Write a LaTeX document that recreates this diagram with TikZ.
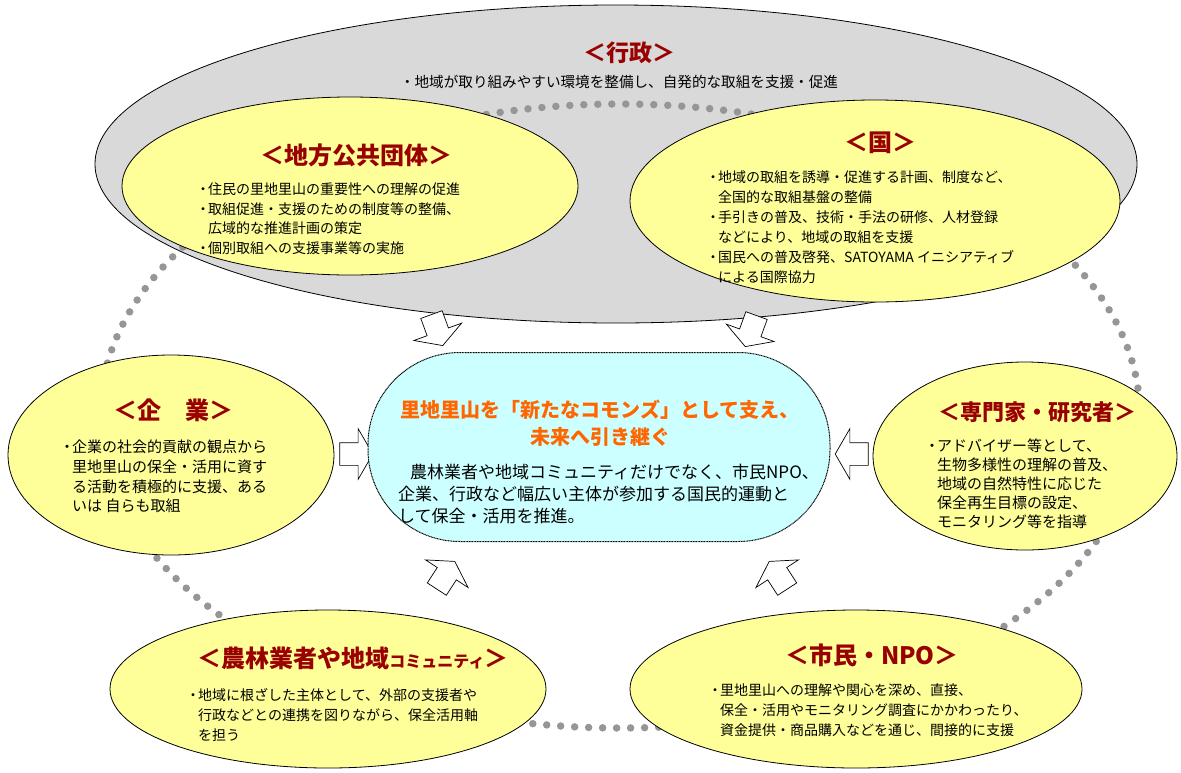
\documentclass[tikz,border=0pt]{standalone}
\usepackage{fontspec}
\setmainfont{Noto Sans CJK JP}
\usetikzlibrary{shapes.geometric, shapes.arrows}

\definecolor{gyoseigray}{RGB}{217,217,217}
\definecolor{actoryellow}{RGB}{255,255,153}
\definecolor{commonscyan}{RGB}{204,255,255}
\definecolor{titlered}{RGB}{153,0,0}
\definecolor{commonsorange}{RGB}{255,102,0}
\definecolor{dotgray}{RGB}{150,150,150}

\newcommand{\bul}{\makebox[10pt][c]{・}}
\newcommand{\ind}{\hspace*{10pt}}

\begin{document}
\begin{tikzpicture}[
    x=1pt, y=-1pt,
    every node/.style={inner sep=0pt},
    gyosei/.style={
        ellipse,
        draw=black,
        fill=gyoseigray,
        line width=0.8pt
    },
    actor/.style={gyosei, fill=actoryellow},
    commons/.style={
        rectangle,
        rounded corners=92pt,
        draw=black,
        fill=commonscyan,
        dash pattern=on 1pt off 0.6pt,
        line width=1pt
    },
    dotring/.style={
        ellipse,
        draw=dotgray,
        line width=7.5pt,
        line cap=round,
        dash pattern=on 0pt off 14pt
    },
    flow/.style={
        single arrow,
        draw=black,
        fill=white,
        line width=0.7pt,
        inner xsep=0pt,
        inner ysep=11pt,
        minimum height=33pt,
        single arrow head extend=14pt,
        single arrow tip angle=120
    },
    title/.style={font=\fontsize{24}{28}\selectfont\bfseries, text=titlered},
    body/.style={anchor=north west, align=left, font=\fontsize{14}{20}\selectfont}
]
\useasboundingbox (0,0) rectangle (1181,772);

% ==================== ADMINISTRATION ====================
\node[gyosei, minimum width=1042pt, minimum height=318pt] (gyosei) at (616,164) {};
\node[dotring, minimum width=1040pt, minimum height=624pt] (ring) at (620,416) {};

\node[title, font=\fontsize{23}{28}\selectfont\bfseries] (gyosei-t) at (629,53) {＜行政＞};
\node[font=\fontsize{14.6}{20}\selectfont] (gyosei-b) at (619,82) {・地域が取り組みやすい環境を整備し、自発的な取組を支援・促進};

% ==================== ACTORS ====================
\node[actor, minimum width=456pt, minimum height=178pt] (chiho) at (350,186) {};
\node[actor, minimum width=490pt, minimum height=202pt] (kuni) at (875,201) {};
\node[actor, minimum width=326pt, minimum height=200pt] (kigyo) at (171,455) {};
\node[actor, minimum width=304pt, minimum height=188pt] (senmon) at (1025,456) {};
\node[actor, minimum width=436pt, minimum height=158pt] (nourin) at (328,689) {};
\node[actor, minimum width=452pt, minimum height=158pt] (shimin) at (856,689) {};

% local government
\node[title] (chiho-t) at (356,155) {＜地方公共団体＞};
\node[body, font=\fontsize{14}{19.4}\selectfont] (chiho-b) at (198,183) {\bul 住民の里地里山の重要性への理解の促進\\
    \bul 取組促進・支援のための制度等の整備、\\
    \ind 広域的な推進計画の策定\\
    \bul 個別取組への支援事業等の実施};

% national government
\node[title] (kuni-t) at (880,143) {＜国＞};
\node[body] (kuni-b) at (708,171) {\bul 地域の取組を誘導・促進する計画、制度など、\\
    \ind 全国的な取組基盤の整備\\
    \bul 手引きの普及、技術・手法の研修、人材登録\\
    \ind などにより、地域の取組を支援\\
    \bul 国民への普及啓発、SATOYAMA イニシアティブ\\
    \ind による国際協力};

% companies
\node[title] (kigyo-t) at (173,410) {＜企　業＞};
\node[body, font=\fontsize{15}{19.7}\selectfont] (kigyo-b) at (62,440) {\bul 企業の社会的貢献の観点から\\
    \ind 里地里山の保全・活用に資す\\
    \ind る活動を積極的に支援、ある\\
    \ind いは 自らも取組};

% experts
\node[title, font=\fontsize{22}{26}\selectfont\bfseries] (senmon-t) at (1037,412) {＜専門家・研究者＞};
\node[body, font=\fontsize{15}{19}\selectfont] (senmon-b) at (927,439) {\bul アドバイザー等として、\\
    \ind 生物多様性の理解の普及、\\
    \ind 地域の自然特性に応じた\\
    \ind 保全再生目標の設定、\\
    \ind モニタリング等を指導};

% farmers and local communities
\node[title] (nourin-t) at (353,658) {＜農林業者や地域{\fontsize{16}{18}\selectfont コミュニティ}＞};
\node[body] (nourin-b) at (188,688) {\bul 地域に根ざした主体として、外部の支援者や\\
    \ind 行政などとの連携を図りながら、保全活用軸\\
    \ind を担う};

% citizens and NPOs
\node[title] (shimin-t) at (872,655) {＜市民・NPO＞};
\node[body] (shimin-b) at (710,683) {\bul 里地里山への理解や関心を深め、直接、\\
    \ind 保全・活用やモニタリング調査にかかわったり、\\
    \ind 資金提供・商品購入などを通じ、間接的に支援};

% ==================== FLOW ARROWS ====================
\node[flow, rotate=-70] (arrTL) at (436,327) {};
\node[flow, rotate=-110] (arrTR) at (752,328) {};
\node[flow] (arrL) at (353,454) {};
\node[flow, rotate=180] (arrR) at (855,454) {};
\node[flow, rotate=57] (arrBL) at (444,578) {};
\node[flow, rotate=123] (arrBR) at (780,578) {};

% ==================== COMMONS ====================
\node[commons, minimum width=462pt, minimum height=189pt] (commons) at (599,447) {};
\node[align=center, text=commonsorange, font=\fontsize{20}{27}\selectfont\bfseries] (commons-t) at (600,423) {里地里山を「新たなコモンズ」として支え、\\未来へ引き継ぐ};
\node[body, font=\fontsize{17}{22}\selectfont] (commons-b) at (398,464) {\hspace*{12pt}農林業者や地域コミュニティだけでなく、市民NPO、\\
    企業、行政など幅広い主体が参加する国民的運動と\\
    して保全・活用を推進。};

\end{tikzpicture}
\end{document}
